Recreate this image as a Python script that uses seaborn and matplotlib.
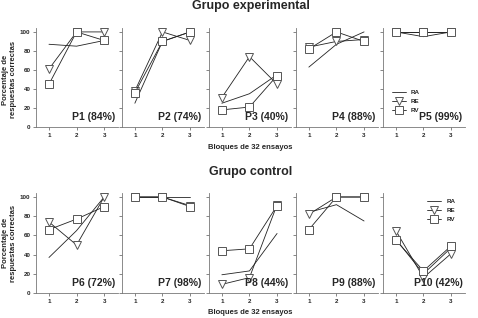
import numpy as np
import pandas as pd
import matplotlib
matplotlib.use('Agg')
import matplotlib.pyplot as plt
import seaborn as sns

sns.set_style('ticks')
plt.rcParams['font.family'] = ['Liberation Sans', 'DejaVu Sans']

# ==================== data ====================
bloques = [1, 2, 3]
medidas = ['RA', 'RE', 'RV']

exp_labels = ['P1 (84%)', 'P2 (74%)', 'P3 (40%)', 'P4 (88%)', 'P5 (99%)']
exp_RA = [[87, 85, 91], [25, 90, 100], [25, 35, 55], [63, 87, 100], [100, 95, 100]]
exp_RE = [[61, 100, 100], [38, 100, 91], [31, 74, 45], [84, 90, 92], [100, 100, 100]]
exp_RV = [[45, 100, 91], [36, 90, 100], [18, 21, 54], [82, 100, 90], [100, 100, 100]]

ctl_labels = ['P6 (72%)', 'P7 (98%)', 'P8 (44%)', 'P9 (88%)', 'P10 (42%)']
ctl_RA = [[37, 65, 100], [100, 100, 100], [19, 23, 62], [84, 92, 75], [56, 20, 47]]
ctl_RE = [[74, 50, 100], [100, 100, 91], [9, 16, 92], [82, 100, 100], [65, 16, 41]]
ctl_RV = [[66, 77, 90], [100, 100, 90], [44, 46, 91], [66, 100, 100], [55, 23, 49]]

yticks = [0, 20, 40, 60, 80, 100]

# ==================== figure ====================
fig = plt.figure(figsize=(4.78, 3.18), dpi=100)

lefts = [0.0753, 0.255, 0.437, 0.619, 0.801]
width = 0.1715
rows = [
    (0.6006, 0.311, exp_labels, exp_RA, exp_RE, exp_RV),
    (0.0786, 0.314, ctl_labels, ctl_RA, ctl_RE, ctl_RV),
]

styles = {
    'RA': dict(marker=None),
    'RE': dict(marker='v', markersize=5.5, markerfacecolor='white',
               markeredgecolor='#555555', markeredgewidth=0.7),
    'RV': dict(marker='s', markersize=5.5, markerfacecolor='white',
               markeredgecolor='#555555', markeredgewidth=0.7),
}

for r, (bottom, height, labels, ra, re, rv) in enumerate(rows):
    for i in range(5):
        ax = fig.add_axes([lefts[i], bottom, width, height])
        series = {'RA': ra[i], 'RE': re[i], 'RV': rv[i]}
        for m in medidas:
            sns.lineplot(x=bloques, y=series[m], ax=ax, color='#222222',
                         linewidth=0.6, label=m, **styles[m])
        ax.set_xlim(0.53, 3.5)
        ax.set_ylim(0, 104)
        ax.set_xticks(bloques)
        ax.set_yticks(yticks)
        ax.tick_params(labelsize=4.5, length=2, width=0.5, color='#555555', pad=2)
        for lab in ax.get_xticklabels() + ax.get_yticklabels():
            lab.set_fontweight('bold')
        if i > 0:
            ax.set_yticklabels([])
        for s in ['left', 'bottom']:
            ax.spines[s].set_linewidth(0.6)
            ax.spines[s].set_color('#777777')
        sns.despine(ax=ax)
        ax.text(0.97, 0.05, labels[i], transform=ax.transAxes, ha='right',
                va='bottom', fontsize=7.5, fontweight='bold')
        leg = ax.get_legend()
        if leg is not None:
            leg.remove()
        if i == 4:
            loc = 'lower left' if r == 0 else 'upper right'
            anchor = (0.04, 0.08) if r == 0 else (0.95, 1.0)
            ax.legend(loc=loc, bbox_to_anchor=anchor, frameon=False,
                      handlelength=2.2, labelspacing=0.6,
                      prop={'weight': 'bold', 'size': 4.5})

fig.text(0.525, 0.98, 'Grupo experimental', ha='center', va='center',
         fontsize=9, fontweight='bold')
fig.text(0.525, 0.46, 'Grupo control', ha='center', va='center',
         fontsize=9, fontweight='bold')
fig.text(0.523, 0.535, 'Bloques de 32 ensayos', ha='center', va='center',
         fontsize=5.5, fontweight='bold')
fig.text(0.523, 0.016, 'Bloques de 32 ensayos', ha='center', va='center',
         fontsize=5.5, fontweight='bold')
for yc in [0.75, 0.235]:
    fig.text(0.02, yc, 'Porcentaje de\nrespuestas correctas', ha='center',
             va='center', rotation=90, fontsize=5.5, fontweight='bold',
             linespacing=1.1)

fig.savefig('out.png', dpi=100)
